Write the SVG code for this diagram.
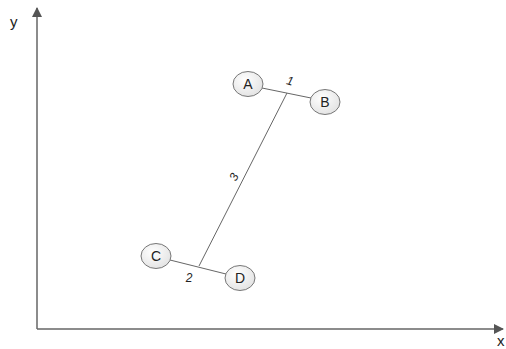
<svg xmlns="http://www.w3.org/2000/svg" width="506" height="349" viewBox="0 0 506 349">
<defs>
<radialGradient id="g" cx="0.4" cy="0.35" r="0.7">
<stop offset="0" stop-color="#ffffff"/>
<stop offset="1" stop-color="#e2e2e2"/>
</radialGradient>
<marker id="ah" markerWidth="10" markerHeight="10" refX="9" refY="5" orient="auto" markerUnits="userSpaceOnUse">
<path d="M0,0 L10,5 L0,10 Z" fill="#555"/>
</marker>
</defs>
<style>
.node ellipse{fill:url(#g);stroke:#777;stroke-width:1}
.node text{font-family:"Liberation Sans",Arial,sans-serif;font-size:14px;fill:#222;text-anchor:middle}
.lbl{font-family:"Liberation Sans",Arial,sans-serif;font-size:12px;font-style:italic;fill:#222;text-anchor:middle}
.ax{font-family:"Liberation Sans",Arial,sans-serif;font-size:15px;fill:#222}
.edge{stroke:#666;stroke-width:1;fill:none}
.axis{stroke:#666;stroke-width:1.5;fill:none}
</style>
<rect width="506" height="349" fill="#fff"/>
<g id="axes">
<line class="axis" x1="37" y1="329" x2="37" y2="8" marker-end="url(#ah)"/>
<line class="axis" x1="37" y1="329" x2="503" y2="329" marker-end="url(#ah)"/>
<text class="ax" x="10" y="27">y</text>
<text class="ax" x="497" y="346">x</text>
</g>
<g id="connectors">
<line class="edge" x1="262" y1="88" x2="311" y2="98"/>
<line class="edge" x1="170" y1="260" x2="226" y2="274"/>
<line class="edge" x1="287" y1="93" x2="199" y2="266"/>
<text class="lbl" x="290" y="85" transform="rotate(15 290 81)">1</text>
<text class="lbl" x="189" y="282">2</text>
<text class="lbl" x="234" y="181" transform="rotate(-63 234 177)">3</text>
</g>
<g id="A" class="node"><ellipse cx="248" cy="84" rx="15" ry="12.5"/><text x="248" y="89">A</text></g>
<g id="B" class="node"><ellipse cx="325" cy="102" rx="15" ry="12.5"/><text x="325" y="107">B</text></g>
<g id="C" class="node"><ellipse cx="156" cy="256" rx="15" ry="12.5"/><text x="156" y="261">C</text></g>
<g id="D" class="node"><ellipse cx="240" cy="278" rx="15" ry="12.5"/><text x="240" y="283">D</text></g>
</svg>
